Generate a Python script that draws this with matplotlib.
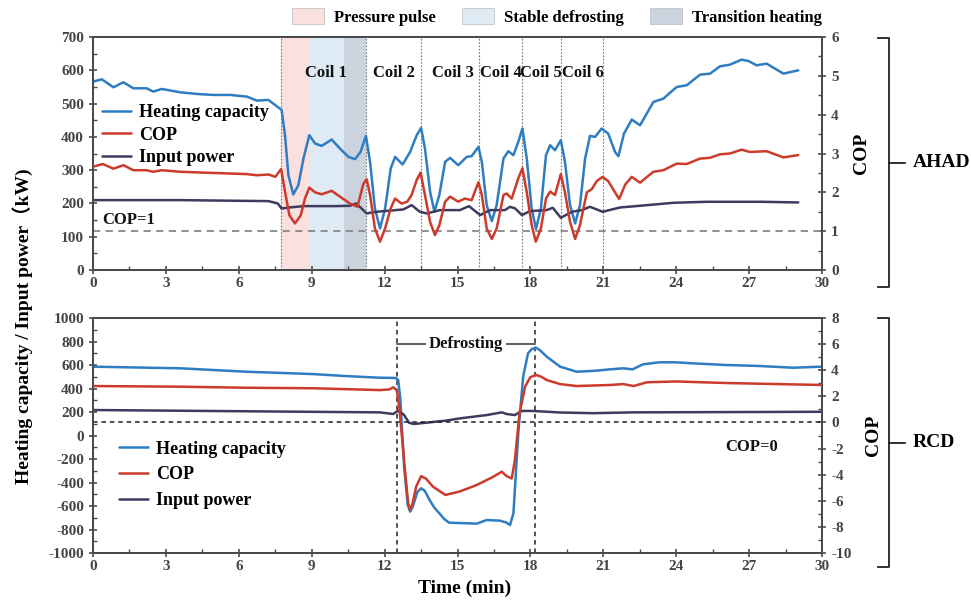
import matplotlib
matplotlib.use('Agg')
import matplotlib.pyplot as plt
from matplotlib.patches import Patch
from matplotlib.lines import Line2D
from matplotlib.ticker import MultipleLocator

plt.rcParams.update({
    'font.family': ['Liberation Serif', 'Noto Sans CJK SC'],
    'font.weight': 'bold',
    'font.size': 11,
    'axes.unicode_minus': False,
    'axes.linewidth': 1.4,
    'axes.edgecolor': '#4a4a4a',
    'xtick.color': '#4a4a4a',
    'ytick.color': '#4a4a4a',
    'xtick.labelcolor': '#444444',
    'ytick.labelcolor': '#444444',
})

BLUE = '#2f7dc1'
RED = '#cc3a2c'
NAVY = '#3d3c5e'

# ---- AHAD (top panel) ----
ahad_cap_t = [0, 0.36, 0.84, 1.25, 1.66, 2.2, 2.48, 2.83, 3.58, 4.27, 4.95, 5.64, 6.33, 6.74, 7.22,
              7.76, 7.9, 8.04, 8.24, 8.45, 8.66, 8.9, 9.14, 9.41, 9.82, 10.16, 10.51, 10.78, 11.01,
              11.23, 11.4, 11.6, 11.81, 12.02, 12.25, 12.43, 12.74, 13.05, 13.32, 13.5, 13.66,
              13.87, 14.05, 14.25, 14.49, 14.69, 15.03, 15.38, 15.58, 15.86, 16.0, 16.2, 16.41,
              16.61, 16.89, 17.09, 17.3, 17.5, 17.67, 17.85, 18.05, 18.23, 18.43, 18.64, 18.81,
              19.01, 19.25, 19.42, 19.63, 19.84, 20.04, 20.25, 20.45, 20.66, 20.93, 21.2, 21.48,
              21.62, 21.85, 22.17, 22.51, 23.06, 23.47, 24.02, 24.43, 24.98, 25.39, 25.8, 26.21,
              26.69, 26.97, 27.31, 27.72, 28.41, 29.02]
ahad_cap = [566, 573, 549, 564, 546, 546, 536, 544, 534, 529, 526, 526, 521, 509, 511,
            481, 405, 285, 227, 255, 335, 405, 380, 373, 392, 365, 340, 333, 355,
            403, 325, 185, 125, 185, 305, 340, 317, 355, 405, 427, 365,
            235, 175, 225, 325, 337, 315, 340, 342, 370, 325, 195, 147,
            195, 335, 357, 345, 385, 425, 335, 185, 123, 185, 345, 375,
            360, 390, 325, 195, 140, 195, 335, 403, 400, 425, 410, 355,
            342, 410, 452, 435, 505, 515, 550, 555, 587, 590, 612, 617,
            632, 628, 615, 620, 590, 600]

ahad_cop_t = [0, 0.4, 0.84, 1.25, 1.66, 2.2, 2.48, 2.83, 3.58, 4.95, 6.33, 6.74, 7.22, 7.5,
              7.74, 7.9, 8.08, 8.31, 8.55, 8.72, 8.9, 9.14, 9.41, 9.82, 10.16, 10.58, 10.88,
              11.12, 11.26, 11.4, 11.6, 11.81, 12.02, 12.25, 12.43, 12.7, 12.93, 13.11, 13.32,
              13.48, 13.66, 13.87, 14.07, 14.25, 14.49, 14.69, 15.03, 15.3, 15.58, 15.86, 16.0,
              16.2, 16.41, 16.61, 16.89, 17.02, 17.23, 17.5, 17.67, 17.85, 18.05, 18.22, 18.43,
              18.64, 18.81, 19.01, 19.25, 19.42, 19.63, 19.84, 20.04, 20.32, 20.52, 20.73, 20.97,
              21.2, 21.48, 21.65, 21.9, 22.17, 22.51, 23.06, 23.47, 24.02, 24.43, 24.98, 25.39,
              25.8, 26.21, 26.69, 27.03, 27.72, 28.41, 29.02]
ahad_cop = [2.66, 2.73, 2.61, 2.70, 2.57, 2.57, 2.53, 2.57, 2.53, 2.50, 2.47, 2.44, 2.46, 2.40,
            2.60, 2.02, 1.41, 1.20, 1.41, 1.84, 2.12, 2.00, 1.95, 2.04, 1.89, 1.71, 1.63,
            2.21, 2.34, 1.93, 1.07, 0.73, 1.07, 1.59, 1.84, 1.71, 1.76, 1.93, 2.32,
            2.51, 1.93, 1.24, 0.90, 1.15, 1.76, 1.89, 1.76, 1.84, 1.80, 2.26, 1.93,
            1.07, 0.80, 1.07, 1.93, 1.97, 1.84, 2.36, 2.62, 2.00, 1.16, 0.73, 1.07,
            1.84, 2.02, 1.93, 2.47, 2.00, 1.24, 0.80, 1.16, 2.00, 2.08, 2.29, 2.40,
            2.29, 2.00, 1.83, 2.20, 2.40, 2.25, 2.53, 2.57, 2.74, 2.73, 2.87, 2.89,
            2.98, 3.00, 3.10, 3.04, 3.06, 2.90, 2.96]

ahad_pow_t = [0, 3.6, 7.22, 7.6, 7.76, 8.1, 8.66, 10.0, 10.58, 10.82, 11.05, 11.26, 11.67, 12.77,
              13.11, 13.45, 13.73, 14.28, 15.1, 15.47, 15.93, 16.34, 16.95, 17.16, 17.37, 17.65,
              17.98, 18.67, 18.92, 19.25, 19.71, 20.11, 20.45, 20.97, 21.69, 22.51, 23.88, 25.25,
              27.5, 29.02]
ahad_pow = [210, 210, 207, 200, 185, 188, 192, 192, 193, 200, 185, 170, 175, 182,
            195, 175, 170, 180, 180, 192, 165, 180, 180, 190, 185, 165,
            177, 180, 187, 157, 175, 180, 190, 175, 188, 193, 202, 205,
            205, 203]

coil_bounds = [7.74, 11.23, 13.48, 15.88, 17.65, 19.27, 20.97]
coil_names = ['Coil 1', 'Coil 2', 'Coil 3', 'Coil 4', 'Coil 5', 'Coil 6']
coil_label_t = [9.6, 12.4, 14.8, 16.8, 18.45, 20.15]
phase_edges = [7.74, 8.9, 10.33, 11.23]
phase_names = ['Pressure pulse', 'Stable defrosting', 'Transition heating']
phase_colors = ['#fae1df', '#deeaf4', '#cbd3de']

# ---- RCD (bottom panel) ----
rcd_cap_t = [0, 3.6, 6.3, 9.05, 10.4, 11.8, 12.45, 12.56, 12.65, 12.8, 12.95, 13.05, 13.15, 13.35,
             13.5, 13.65, 13.85, 14.05, 14.25, 14.45, 14.65, 15.1, 15.79, 16.2, 16.75, 17.0, 17.16,
             17.3, 17.5, 17.7, 17.9, 18.05, 18.23, 18.4, 18.67, 19.22, 19.9, 20.58, 21.27, 21.82,
             22.2, 22.63, 23.3, 24.0, 24.7, 26.07, 27.4, 28.8, 30]
rcd_cap = [586, 572, 543, 523, 506, 492, 490, 472, 302, -265, -590, -648, -610, -480,
           -449, -470, -549, -615, -662, -710, -742, -745, -750, -719, -725, -740, -762,
           -662, 19, 500, 700, 735, 747, 725, 671, 586, 543, 550, 563, 572,
           563, 606, 623, 623, 614, 600, 592, 577, 586]

rcd_cop_t = [0, 3.6, 6.3, 9.05, 11.8, 12.2, 12.35, 12.5, 12.6, 12.85, 12.97, 13.05, 13.15, 13.3,
             13.5, 13.7, 13.99, 14.5, 15.07, 15.79, 16.47, 16.82, 17.02, 17.23, 17.36, 17.55,
             17.78, 17.99, 18.23, 18.45, 18.67, 19.22, 19.9, 21.27, 21.82, 22.24, 22.8, 24.0,
             26.07, 30]
rcd_cop = [2.79, 2.74, 2.66, 2.62, 2.48, 2.53, 2.69, 2.48, 1.21, -3.90, -6.2, -6.71, -6.2, -4.9,
           -4.11, -4.3, -4.92, -5.55, -5.30, -4.79, -4.16, -3.77, -4.11, -4.29, -2.88, 0.70,
           2.74, 3.46, 3.64, 3.50, 3.25, 2.94, 2.79, 2.87, 2.94, 2.79, 3.08, 3.14,
           3.02, 2.87]

rcd_pow_t = [0, 11.8, 12.35, 12.56, 12.8, 13.0, 13.2, 14.5, 15.1, 15.88, 16.2, 16.82, 17.02, 17.36,
             17.63, 18.1, 19.22, 20.58, 22.2, 30]
rcd_pow = [217, 197, 183, 211, 175, 109, 98, 126, 146, 166, 174, 197, 183, 174,
           209, 209, 196, 190, 197, 202]

defrost_start, defrost_end = 12.5, 18.2

fig = plt.figure(figsize=(9.71, 6.03), dpi=100)
ax1 = fig.add_axes([0.0958, 0.5522, 0.7508, 0.3864])
ax2 = fig.add_axes([0.0958, 0.0829, 0.7508, 0.3897])
ax1r = ax1.twinx()
ax2r = ax2.twinx()

line_kw = dict(lw=1.8, solid_joinstyle='round', solid_capstyle='round', zorder=3)


def style_axes(ax, axr):
    ax.set_xlim(0, 30)
    ax.xaxis.set_major_locator(MultipleLocator(3))
    ax.xaxis.set_minor_locator(MultipleLocator(1.5))
    for a in (ax, axr):
        a.tick_params(which='major', direction='inout', length=6, width=1.2, labelsize=11)
        a.tick_params(which='minor', direction='in', length=3, width=1.0)
        for lab in a.get_xticklabels() + a.get_yticklabels():
            lab.set_fontweight('bold')
    ax.tick_params(axis='x', pad=2)


# top panel
for i in range(3):
    ax1.axvspan(phase_edges[i], phase_edges[i + 1], color=phase_colors[i], lw=0, zorder=0)
for b in coil_bounds:
    ax1.axvline(b, color='#777777', lw=0.8, ls=(0, (1.5, 1.5)), zorder=1)
for name, t in zip(coil_names, coil_label_t):
    ax1.text(t, 592, name, ha='center', va='center', fontsize=12, fontweight='bold', color='#111111')

l1, = ax1.plot(ahad_cap_t, ahad_cap, color=BLUE, **line_kw)
l3, = ax1.plot(ahad_pow_t, ahad_pow, color=NAVY, **line_kw)
l2, = ax1r.plot(ahad_cop_t, ahad_cop, color=RED, **line_kw)
ax1r.axhline(1, color='#888888', lw=1.3, ls=(0, (4, 3)), zorder=2)
ax1.text(0.4, 150, 'COP=1', fontsize=12, fontweight='bold', color='#111111', va='center')

ax1.set_ylim(0, 700)
ax1.yaxis.set_major_locator(MultipleLocator(100))
ax1.yaxis.set_minor_locator(MultipleLocator(50))
ax1r.set_ylim(0, 6)
ax1r.yaxis.set_major_locator(MultipleLocator(1))
ax1r.yaxis.set_minor_locator(MultipleLocator(0.5))
ax1r.set_ylabel('COP', fontsize=14, fontweight='bold', labelpad=10)
style_axes(ax1, ax1r)
ax1.legend([l1, l2, l3], ['Heating capacity', 'COP', 'Input power'], loc='upper left',
           bbox_to_anchor=(0.012, 0.712), frameon=False, handlelength=1.6, handletextpad=0.45,
           labelspacing=0.3, borderpad=0, borderaxespad=0, prop={'weight': 'bold', 'size': 13})

# bottom panel
ax2.axvline(defrost_start, color='#222222', lw=1.1, ls=(0, (3, 2.5)), zorder=1)
ax2.axvline(defrost_end, color='#222222', lw=1.1, ls=(0, (3, 2.5)), zorder=1)
ax2.plot([defrost_start, defrost_end], [780, 780], color='#333333', lw=1.1, zorder=2)
ax2.text((defrost_start + defrost_end) / 2, 780, 'Defrosting', ha='center', va='center',
         fontsize=12, fontweight='bold', color='#111111', zorder=3,
         bbox=dict(facecolor='white', edgecolor='none', pad=2))

m1, = ax2.plot(rcd_cap_t, rcd_cap, color=BLUE, **line_kw)
m3, = ax2.plot(rcd_pow_t, rcd_pow, color=NAVY, **line_kw)
m2, = ax2r.plot(rcd_cop_t, rcd_cop, color=RED, **line_kw)
ax2r.axhline(0, color='#222222', lw=1.1, ls=(0, (3, 2.5)), zorder=2)
ax2.text(27.1, -100, 'COP=0', ha='center', va='center', fontsize=12, fontweight='bold', color='#111111')

ax2.set_ylim(-1000, 1000)
ax2.yaxis.set_major_locator(MultipleLocator(200))
ax2.yaxis.set_minor_locator(MultipleLocator(100))
ax2r.set_ylim(-10, 8)
ax2r.yaxis.set_major_locator(MultipleLocator(2))
ax2r.yaxis.set_minor_locator(MultipleLocator(1))
ax2r.set_ylabel('COP', fontsize=14, fontweight='bold', labelpad=10)
style_axes(ax2, ax2r)
ax2.legend([m1, m2, m3], ['Heating capacity', 'COP', 'Input power'], loc='upper left',
           bbox_to_anchor=(0.036, 0.478), frameon=False, handlelength=1.6, handletextpad=0.45,
           labelspacing=0.48, borderpad=0, borderaxespad=0, prop={'weight': 'bold', 'size': 13})

# shared labels
fig.text(465 / 971, 1 - 588 / 603, 'Time (min)', ha='center', va='center', fontsize=14, fontweight='bold')
fig.text(23 / 971, 1 - 326 / 603, 'Heating capacity / Input power（kW)', rotation=90,
         ha='center', va='center', fontsize=14, fontweight='bold')

# phase legend on top
handles = [Patch(facecolor=c, edgecolor='#bbbbbb', lw=0.5) for c in phase_colors]
fig.legend(handles, phase_names, loc='center', bbox_to_anchor=(557 / 971, 1 - 17 / 603), ncol=3,
           frameon=False, handlelength=1.9, handleheight=1.1, columnspacing=1.6,
           handletextpad=0.6, prop={'weight': 'bold', 'size': 12})


# brackets at right
def bracket(y_top, y_bot, label):
    x_v, x_l, x_t = 889 / 971, 878 / 971, 905 / 971
    yt, yb = 1 - y_top / 603, 1 - y_bot / 603
    ym = (yt + yb) / 2
    kw = dict(color='#222222', lw=1.3, transform=fig.transFigure)
    fig.add_artist(Line2D([x_l, x_v, x_v, x_l], [yt, yt, yb, yb], **kw))
    fig.add_artist(Line2D([x_v, x_t], [ym, ym], **kw))
    fig.text(913 / 971, ym, label, ha='left', va='center', fontsize=14, fontweight='bold')


bracket(38, 287, 'AHAD')
bracket(318, 567, 'RCD')

fig.savefig('out.png', dpi=100)
